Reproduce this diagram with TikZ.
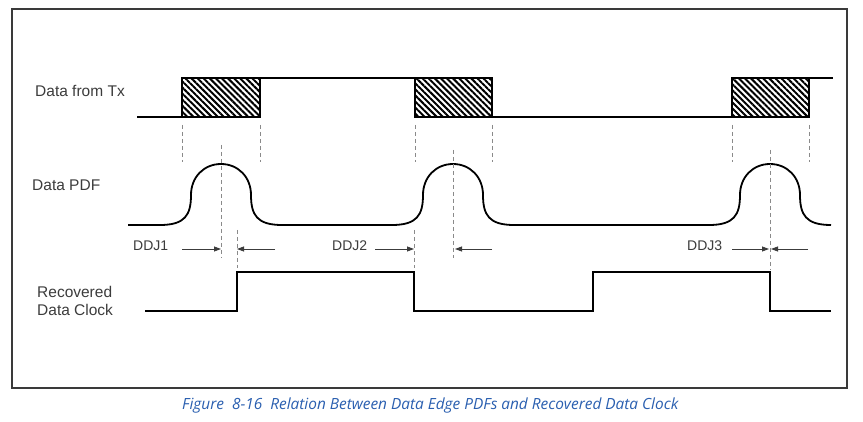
\documentclass[tikz,border=0pt]{standalone}
\usepackage{fontspec}
\setmainfont{Liberation Sans}
\newfontfamily\capfont{Open Sans}
\usetikzlibrary{arrows.meta,patterns.meta}
\definecolor{FrameGrey}{HTML}{3A3A3A}
\definecolor{LabelGrey}{HTML}{3C3C3C}
\definecolor{DashGrey}{HTML}{8A8A8A}
\definecolor{CaptionBlue}{HTML}{2A5FB0}
\begin{document}
\begin{tikzpicture}[x=1pt,y=-1pt,>={Triangle[length=7pt,width=5pt]},
 sig/.style={line width=1.8pt,line join=miter},
 guide/.style={DashGrey,line width=.9pt,dash pattern=on 4pt off 3pt},
 hatchbox/.style={sig,pattern={Lines[angle=-45,distance=4.3pt,line width=2pt]}},
 meas/.style={LabelGrey,line width=.8pt,->},
 every node/.style={text=LabelGrey,inner sep=0pt,font=\fontsize{15.5}{18}\selectfont}]
\useasboundingbox (0,0) rectangle (863,422); \fill[white] (0,0) rectangle (863,422);
\draw[FrameGrey,line width=1.2pt] (12,9) rectangle (847,388);
% row labels
\node[anchor=west] (tx) at (35,91) {Data from Tx};
\node[anchor=west] (pdf) at (32,185) {Data PDF};
\node[anchor=west,align=left] (clk) at (37,301) {Recovered\\Data Clock};
% transmitted data with uncertain edges
\foreach \a/\b in {182/260,415/492,732/809} \draw[hatchbox] (\a,78) rectangle (\b,117);
\draw[sig] (137,117)--(182,117); \draw[sig] (260,78)--(415,78); \draw[sig] (492,117)--(732,117); \draw[sig] (809,78)--(833,78);
\foreach \x in {182,260,415,492,732,809} \draw[guide] (\x,125)--(\x,162);
% edge PDFs
\draw[sig] (128,225) \foreach \c in {221,453,770}{ -- (\c-61,225) .. controls (\c-36,225) and (\c-30,215) .. (\c-30,195) .. controls (\c-30,177) and (\c-17,164) .. (\c,164) .. controls (\c+17,164) and (\c+30,177) .. (\c+30,195) .. controls (\c+30,215) and (\c+36,225) .. (\c+61,225)};
\draw[guide] (221,145)--(221,258); \draw[guide] (453,150)--(453,258); \draw[guide] (770,150)--(770,270);
\draw[guide] (237,230)--(237,268); \draw[guide] (414,230)--(414,268);
% recovered clock
\draw[sig] (145,311)--(237,311)--(237,272)--(414,272)--(414,311)--(593,311)--(593,272)--(770,272)--(770,311)--(831,311);
% jitter markers
\node[anchor=west,font=\fontsize{14}{16}\selectfont] (ddj1) at (133,246) {DDJ1};
\node[anchor=west,font=\fontsize{14}{16}\selectfont] (ddj2) at (332,246) {DDJ2};
\node[anchor=west,font=\fontsize{14}{16}\selectfont] (ddj3) at (687,246) {DDJ3};
\coordinate (a1) at (182,249); \coordinate (p1) at (221,249); \coordinate (k1) at (237,249); \coordinate (b1) at (275,249);
\coordinate (a2) at (375,249); \coordinate (k2) at (414,249); \coordinate (p2) at (455,249); \coordinate (b2) at (492,249);
\coordinate (a3) at (732,249); \coordinate (p3) at (769,249); \coordinate (k3) at (771,249); \coordinate (b3) at (808,249);
\draw[meas] (a1)--(p1); \draw[meas] (b1)--(k1); \draw[meas] (a2)--(k2); \draw[meas] (b2)--(p2); \draw[meas] (a3)--(p3); \draw[meas] (b3)--(k3);
\node[anchor=west,text=CaptionBlue,font=\capfont\itshape\fontsize{15.4}{17}\selectfont] (cap) at (182,405) {Figure\ \ 8-16\ \ Relation Between Data Edge PDFs and Recovered Data Clock};
\end{tikzpicture}
\end{document}
